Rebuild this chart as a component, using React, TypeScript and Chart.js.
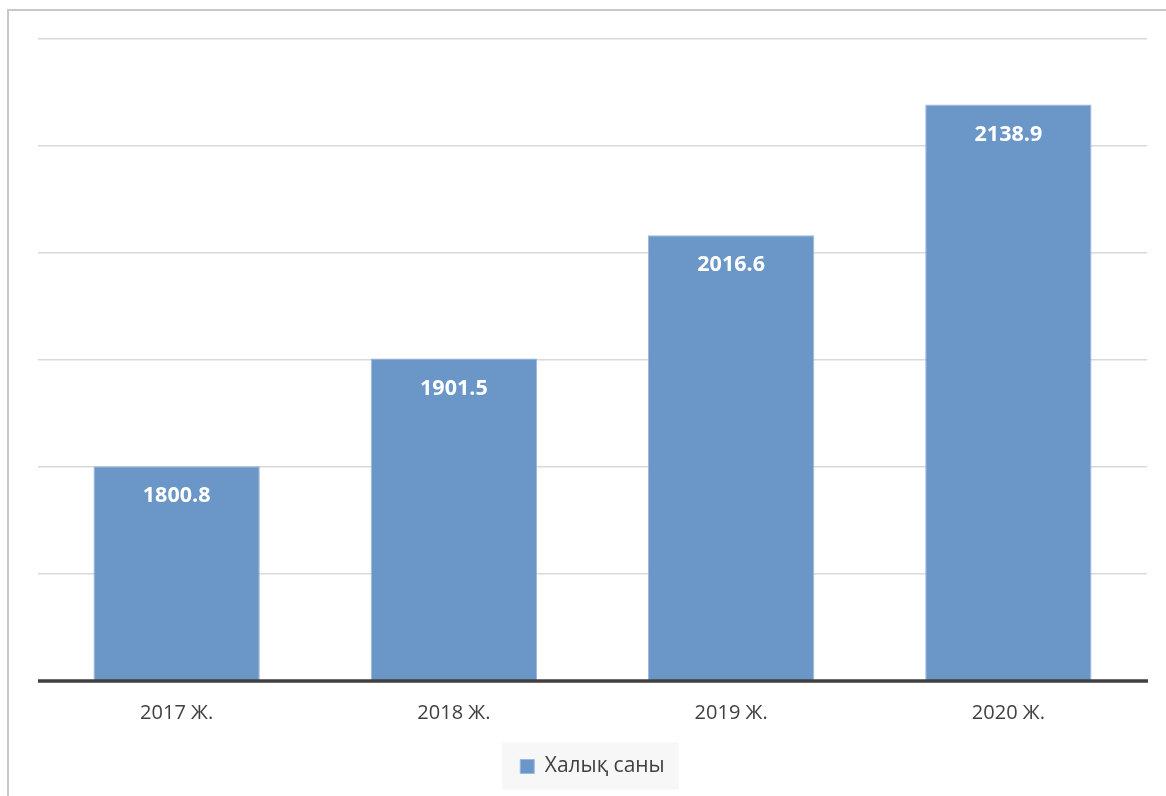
import React, { useEffect, useRef } from "react";
import { Chart, registerables } from "chart.js";

Chart.register(...registerables);

const categories: string[] = ["2017 Ж.", "2018 Ж.", "2019 Ж.", "2020 Ж."];
const populationValues: number[] = [1800.8, 1901.5, 2016.6, 2138.9];
const seriesLabel = "Халық саны";
const yMin = 1600;
const yMax = 2200;
const yStep = 100;

const barColor = "#6a96c8";
const barEdge = "#9bb8dc";

const barLabelPlugin = {
  id: "barLabels",
  afterDatasetsDraw(chart: any) {
    const { ctx } = chart;
    const meta = chart.getDatasetMeta(0);
    ctx.save();
    ctx.fillStyle = "#ffffff";
    ctx.font = "bold 21.5px 'Open Sans', sans-serif";
    ctx.textAlign = "center";
    ctx.textBaseline = "middle";
    meta.data.forEach((bar: any, i: number) => {
      const v = chart.data.datasets[0].data[i] as number;
      ctx.fillText(v.toFixed(1), bar.x, bar.y + 30);
    });
    ctx.restore();
  },
};

const baselinePlugin = {
  id: "baseline",
  afterDatasetsDraw(chart: any) {
    const { ctx, chartArea } = chart;
    ctx.save();
    ctx.strokeStyle = "#404040";
    ctx.lineWidth = 3.5;
    ctx.beginPath();
    ctx.moveTo(chartArea.left, chartArea.bottom);
    ctx.lineTo(chartArea.right + 1, chartArea.bottom);
    ctx.stroke();
    ctx.restore();
  },
};

const legendBgPlugin = {
  id: "legendBg",
  beforeDraw(chart: any) {
    const lg = chart.legend;
    if (!lg || !lg.legendHitBoxes || !lg.legendHitBoxes.length) return;
    const hb = lg.legendHitBoxes[0];
    const { ctx } = chart;
    ctx.save();
    ctx.fillStyle = "#f7f7f7";
    const cy = hb.top + hb.height / 2;
    ctx.fillRect(hb.left - 18, cy - 24, hb.width + 32, 47);
    ctx.restore();
  },
};

export default function App() {
  const canvasRef = useRef<HTMLCanvasElement | null>(null);

  useEffect(() => {
    if (!canvasRef.current) return;
    const chart = new Chart(canvasRef.current, {
      type: "bar",
      data: {
        labels: categories,
        datasets: [
          {
            label: seriesLabel,
            data: populationValues,
            backgroundColor: barColor,
            borderColor: barEdge,
            borderWidth: 1,
            categoryPercentage: 0.6,
            barPercentage: 1.0,
          },
        ],
      },
      options: {
        animation: false,
        responsive: false,
        maintainAspectRatio: false,
        layout: { padding: { left: 38, right: 19, top: 39, bottom: 9 } },
        scales: {
          x: {
            grid: { display: false, drawTicks: false },
            border: { display: false },
            ticks: {
              color: "#404040",
              font: { family: "'Open Sans', sans-serif", size: 20 },
              padding: 20,
            },
            afterFit(scale: any) {
              scale.height = 65;
            },
          },
          y: {
            min: yMin,
            max: yMax,
            ticks: { display: false, stepSize: yStep },
            grid: { color: "#d9d9d9", lineWidth: 1.5, drawTicks: false },
            border: { display: false },
            afterFit(scale: any) {
              scale.width = 0;
            },
          },
        },
        plugins: {
          legend: {
            position: "bottom",
            labels: {
              boxWidth: 14,
              boxHeight: 14,
              padding: 10,
              color: "#404040",
              font: { family: "'Open Sans', sans-serif", size: 21 },
            },
          },
          tooltip: { enabled: false },
        },
      },
      plugins: [legendBgPlugin, barLabelPlugin, baselinePlugin],
    });
    return () => chart.destroy();
  }, []);

  return (
    <div style={{ position: "fixed", left: 0, top: 0, width: 1166, height: 796, background: "#fff" }}>
      <div
        style={{
          position: "absolute",
          left: 7,
          top: 9,
          width: 1166,
          height: 796,
          borderLeft: "2px solid #c8c8c8",
          borderTop: "2px solid #c8c8c8",
        }}
      />
      <canvas ref={canvasRef} width={1166} height={796} style={{ position: "absolute", left: 0, top: 0 }} />
    </div>
  );
}
